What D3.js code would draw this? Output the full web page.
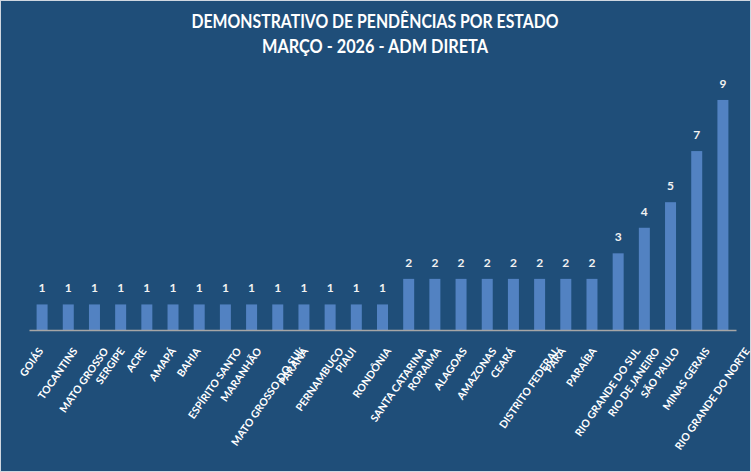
<!DOCTYPE html>
<html>
<head>
<meta charset="utf-8">
<script src="https://cdn.jsdelivr.net/npm/d3@7"></script>
<style>
  body { margin: 0; background: #fff; }
  svg text { font-family: Lato, "Open Sans", sans-serif; font-weight: bold; }
</style>
</head>
<body>
<svg id="chart"></svg>
<script>
const estados = [
    'GOIÁS', 'TOCANTINS', 'MATO GROSSO', 'SERGIPE', 'ACRE', 'AMAPÁ', 'BAHIA',
    'ESPÍRITO SANTO', 'MARANHÃO', 'MATO GROSSO DO SUL', 'PARANÁ', 'PERNAMBUCO',
    'PIAUI', 'RONDÔNIA', 'SANTA CATARINA', 'RORAIMA', 'ALAGOAS', 'AMAZONAS',
    'CEARÁ', 'DISTRITO FEDERAL', 'PARÁ', 'PARAÍBA', 'RIO GRANDE DO SUL',
    'RIO DE JANEIRO', 'SÃO PAULO', 'MINAS GERAIS', 'RIO GRANDE DO NORTE'
];
const pendencias = [1, 1, 1, 1, 1, 1, 1, 1, 1, 1, 1, 1, 1, 1, 2, 2, 2, 2, 2, 2, 2, 2, 3, 4, 5, 7, 9];
const titulo = ['DEMONSTRATIVO DE PENDÊNCIAS POR ESTADO', 'MARÇO - 2026 - ADM DIRETA'];

const width = 751;
const height = 472;
const angle = 55; // label rotation (degrees)
const titleWidths = [367, 226]; // measured widths of the title lines

const svg = d3.select('#chart')
    .attr('width', width)
    .attr('height', height);

svg.append('rect')
    .attr('x', 0.5).attr('y', 0.5)
    .attr('width', width - 1).attr('height', height - 1)
    .attr('fill', '#1F4E79')
    .attr('stroke', '#D0D7E0');

svg.append('text')
    .attr('x', 375)
    .attr('y', 28)
    .attr('text-anchor', 'middle')
    .attr('fill', '#FFFFFF')
    .attr('font-size', 18)
    .selectAll('tspan')
    .data(titulo).enter()
    .append('tspan')
    .attr('x', 375)
    .attr('dy', (d, i) => i === 0 ? 0 : 24.5)
    .attr('textLength', (d, i) => titleWidths[i])
    .attr('lengthAdjust', 'spacingAndGlyphs')
    .text((d) => d);

const x = d3.scaleBand()
    .domain(estados)
    .range([29, 736])
    .paddingInner(0.58)
    .paddingOuter(0.29);

const y = d3.scaleLinear()
    .domain([0, 10])
    .range([330, 74.4]);

const data = estados.map((e, i) => ({ estado: e, valor: pendencias[i] }));

svg.selectAll('.bar')
    .data(data).enter()
    .append('rect')
    .attr('class', 'bar')
    .attr('x', (d) => x(d.estado))
    .attr('y', (d) => y(d.valor))
    .attr('width', x.bandwidth())
    .attr('height', (d) => y(0) - y(d.valor))
    .attr('fill', '#5282C2');

svg.selectAll('.valor')
    .data(data).enter()
    .append('text')
    .attr('class', 'valor')
    .attr('x', (d) => x(d.estado) + x.bandwidth() / 2)
    .attr('y', (d) => y(d.valor) - 12)
    .attr('text-anchor', 'middle')
    .attr('fill', '#F2F2F2')
    .attr('font-size', 12)
    .text((d) => d.valor);

const axis = svg.append('g')
    .attr('transform', `translate(0,${y(0)})`)
    .call(d3.axisBottom(x).tickSize(0).tickSizeOuter(0));

axis.select('.domain')
    .attr('stroke', '#A6A6A6')
    .attr('stroke-width', 1.5);

// rotated labels: bounding box centred a little left of the tick, top aligned under the axis
const rad = angle * Math.PI / 180;
axis.selectAll('.tick text')
    .attr('fill', '#FFFFFF')
    .attr('font-size', 10.5)
    .attr('font-family', 'Lato, sans-serif')
    .attr('text-anchor', 'middle')
    .attr('dy', '0.35em')
    .attr('y', 0)
    .attr('transform', function () {
        const len = this.getComputedTextLength();
        const h = 10;
        const boxH = len * Math.sin(rad) + h * Math.cos(rad);
        return `translate(-10.5,${16 + boxH / 2}) rotate(${-angle})`;
    });
</script>
</body>
</html>
